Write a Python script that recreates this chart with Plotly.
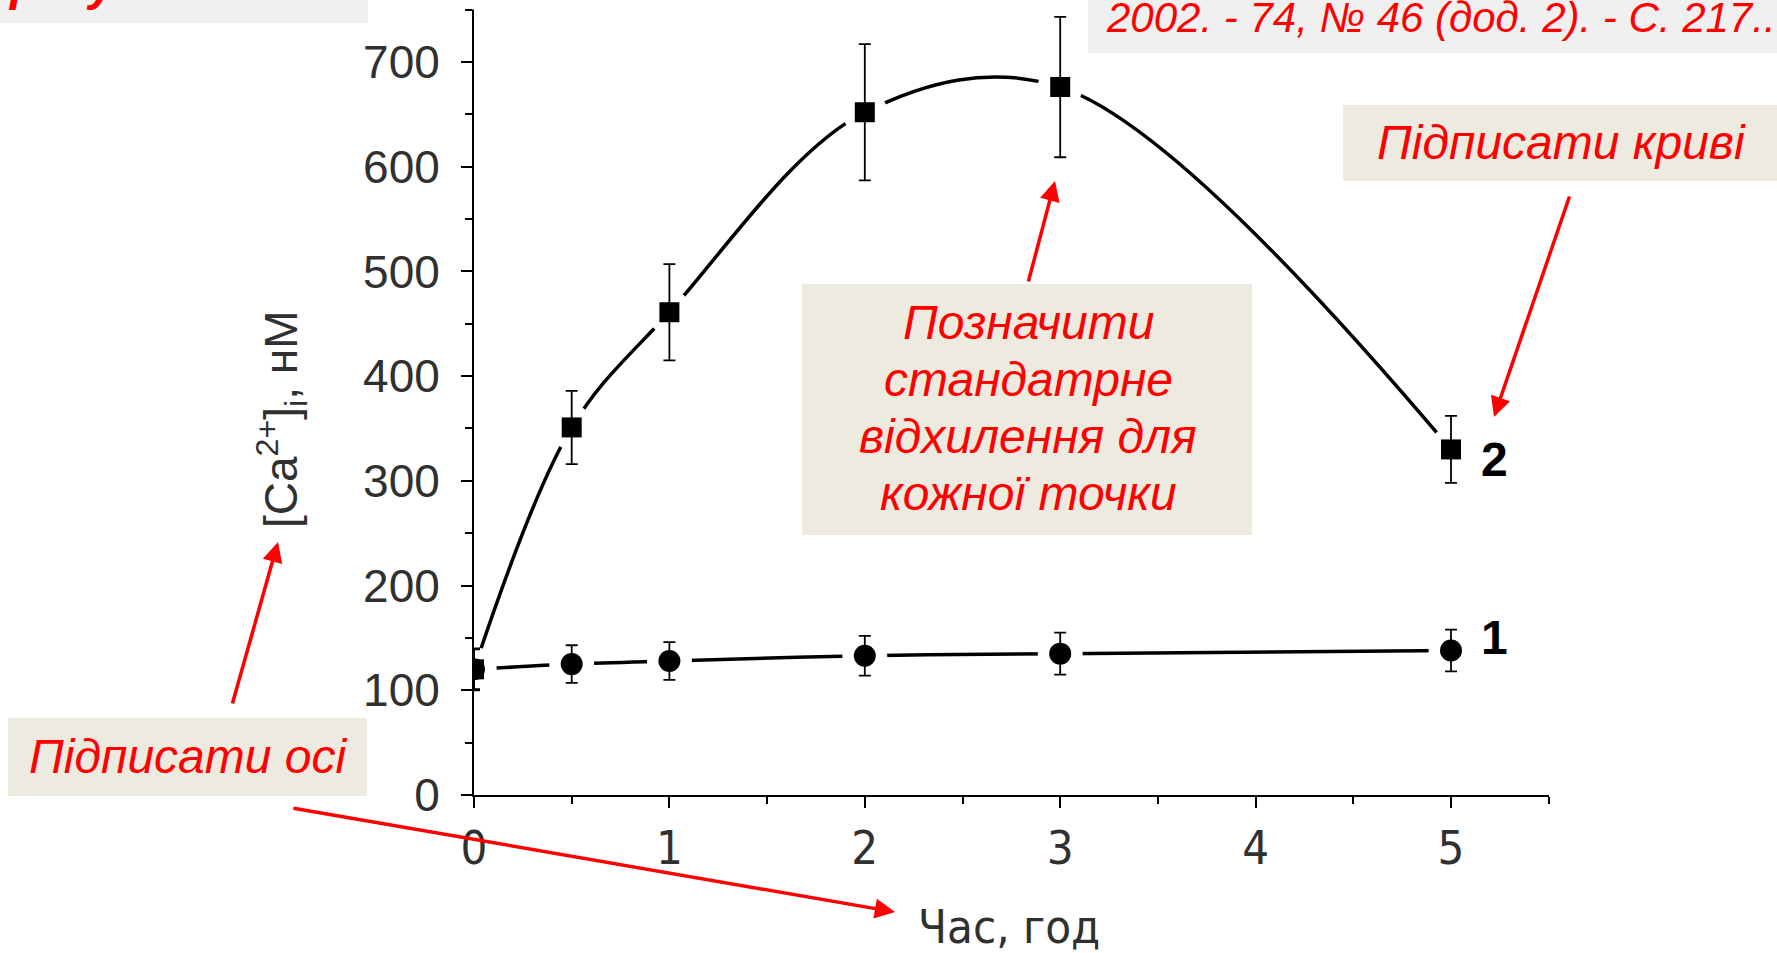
import plotly.graph_objects as go

# ---------------- data ----------------
hours = [0, 0.5, 1, 2, 3, 5]
ca_curve1 = [120, 125, 128, 133, 135, 138]
ca_curve1_sd = [19, 18, 18, 19, 20, 20]
ca_curve2 = [120, 351, 461, 652, 676, 330]
ca_curve2_sd = [20, 35, 46, 65, 67, 32]

y_ticks = [0, 100, 200, 300, 400, 500, 600, 700]
x_ticks = [0, 1, 2, 3, 4, 5]

W, H = 1777, 953


def px(x):
    return x / W


def py(y):
    return 1 - y / H


RED = "#ff0000"
ITALIC = dict(family="Liberation Sans, Arial, sans-serif", size=48, color=RED, style="italic")
NARROW = "Liberation Sans Narrow, Arial Narrow, DejaVu Sans Condensed, Liberation Sans, sans-serif"
AXIS_TXT = "#303030"

fig = go.Figure()

# line + white gap disc at every point (points are drawn above the line of the same trace)
for ys in (ca_curve1, ca_curve2):
    fig.add_trace(go.Scatter(x=hours, y=ys, mode="lines+markers",
                             line=dict(color="black", width=3.5, shape="spline", smoothing=1),
                             marker=dict(color="rgb(255,255,255)", size=44, symbol="circle",
                                         line=dict(color="rgb(255,255,255)", width=1)),
                             hoverinfo="skip", showlegend=False))
# markers with error bars
fig.add_trace(go.Scatter(x=hours, y=ca_curve2, mode="markers",
                         marker=dict(color="black", size=20, symbol="square", line=dict(width=0)),
                         error_y=dict(type="data", array=ca_curve2_sd, visible=True,
                                      color="black", thickness=1.8, width=6),
                         showlegend=False))
fig.add_trace(go.Scatter(x=hours, y=ca_curve1, mode="markers",
                         marker=dict(color="black", size=22, symbol="circle", line=dict(width=0)),
                         error_y=dict(type="data", array=ca_curve1_sd, visible=True,
                                      color="black", thickness=1.8, width=6),
                         showlegend=False))

x0, x55 = 474, 1548.7
y0, y750 = 795, 9.6
XDOM = [px(x0), px(x55)]
YDOM = [py(y0), py(y750)]

fig.update_layout(
    width=W, height=H, autosize=False,
    margin=dict(l=0, r=0, t=0, b=0, pad=0),
    paper_bgcolor="white", plot_bgcolor="white",
    showlegend=False,
    xaxis=dict(domain=XDOM, range=[0, 5.5], automargin=False,
               tickvals=x_ticks, ticktext=[str(v) for v in x_ticks],
               showline=True, linecolor="black", linewidth=2,
               ticks="outside", ticklen=11, tickwidth=2, tickcolor="black",
               minor=dict(tickvals=[0.5, 1.5, 2.5, 3.5, 4.5, 5.5], ticks="outside",
                          ticklen=7, tickwidth=2, tickcolor="black"),
               showgrid=False, zeroline=False,
               tickfont=dict(family=NARROW, size=47, color=AXIS_TXT),
               ticklabelstandoff=0, layer="above traces"),
    yaxis=dict(domain=YDOM, range=[0, 750], automargin=False,
               tickvals=y_ticks, ticktext=[str(v) for v in y_ticks],
               showline=True, linecolor="black", linewidth=2,
               ticks="outside", ticklen=11, tickwidth=2, tickcolor="black",
               minor=dict(tickvals=[50, 150, 250, 350, 450, 550, 650, 750], ticks="outside",
                          ticklen=7, tickwidth=2, tickcolor="black"),
               showgrid=False, zeroline=False,
               tickfont=dict(family="Liberation Sans, Arial, sans-serif", size=46, color=AXIS_TXT),
               ticklabelstandoff=12, layer="above traces"),
)

shapes = []


def box(xa, ya, xb, yb, color):
    shapes.append(dict(type="rect", xref="paper", yref="paper",
                       x0=px(xa), x1=px(xb), y0=py(yb), y1=py(ya),
                       fillcolor=color, line=dict(width=0), layer="above"))


box(0, -5, 368, 23, "#f0f0f0")
box(1088, -5, 1782, 53, "#f0f0f0")
box(1343, 105, 1782, 181, "#edeae0")
box(802, 284, 1252, 535, "#edeae0")
box(8, 718, 367, 796, "#edeae0")
# keep the y axis line visible over the white gap discs
shapes.append(dict(type="line", xref="paper", yref="paper",
                   x0=px(x0 - 1), x1=px(x0 - 1), y0=py(y0), y1=py(y750),
                   line=dict(color="black", width=2), layer="above"))
fig.update_layout(shapes=shapes)

ann = []


def text(x, y, s, font, xanchor="center", yanchor="middle"):
    ann.append(dict(x=px(x), y=py(y), xref="paper", yref="paper", text=s, showarrow=False,
                    font=font, xanchor=xanchor, yanchor=yanchor))


text(6, -16, "<b>результати</b>", dict(ITALIC), xanchor="left")
text(1104, 17, "2002. - 74, № 46 (дод. 2). - С. 217...",
     dict(family="Liberation Sans, Arial, sans-serif", size=42, color=RED, style="italic"),
     xanchor="left")
text(1561, 142, "Підписати криві", dict(ITALIC))
text(1028, 322, "Позначити", dict(ITALIC))
text(1028, 379, "стандатрне", dict(ITALIC))
text(1028, 437, "відхилення для", dict(ITALIC))
text(1028, 494, "кожної точки", dict(ITALIC))
text(188, 756, "Підписати осі", dict(ITALIC))

BOLD = dict(family="Liberation Sans, Arial, sans-serif", size=48, color="black", weight="bold")
text(1494, 459, "2", BOLD)
text(1494, 637, "1", BOLD)

text(1009, 926, "Час, год", dict(family=NARROW, size=47, color=AXIS_TXT))
ann.append(dict(x=px(281), y=py(419), xref="paper", yref="paper",
                text="[Ca<sup>2+</sup>]<sub>i</sub>, нМ", showarrow=False, textangle=-90,
                font=dict(family="Liberation Sans, Arial, sans-serif", size=46, color=AXIS_TXT),
                xanchor="center", yanchor="middle"))


def arrow(hx, hy, tx, ty):
    ann.append(dict(x=px(hx), y=py(hy), xref="paper", yref="paper", text="",
                    showarrow=True, ax=tx - hx, ay=ty - hy, axref="pixel", ayref="pixel",
                    arrowcolor=RED, arrowwidth=3.5, arrowhead=2, arrowsize=1.15,
                    standoff=0, startstandoff=0))


arrow(1055, 181, 1028, 283)
arrow(1494, 417, 1570, 195)
arrow(278, 542, 232, 705)
arrow(895, 912, 292, 808)

fig.update_layout(annotations=ann)

fig.write_html("out.html")
